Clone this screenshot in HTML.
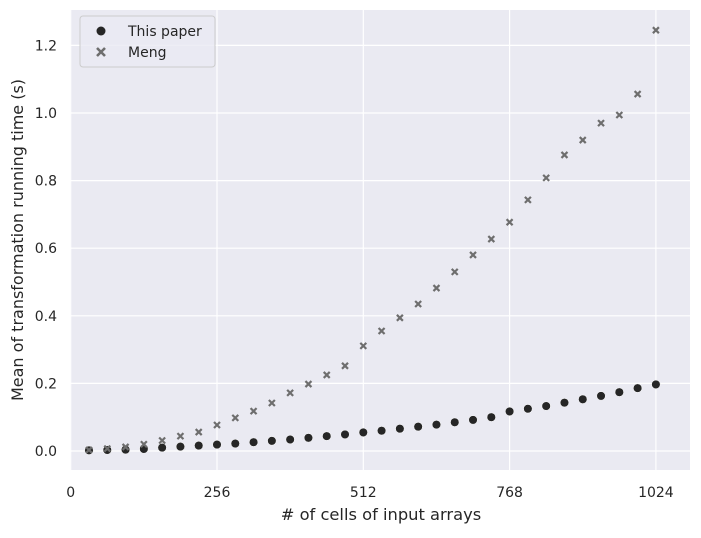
<!DOCTYPE html>
<html><head><meta charset="utf-8"><style>
body{margin:0;background:#fff;font-family:"Liberation Sans","DejaVu Sans",sans-serif}
svg text{font-family:"DejaVu Sans","Liberation Sans",sans-serif;fill:#262626}
</style></head><body>
<svg id="chart" width="701" height="533" viewBox="0 0 701 533">
<rect x="70" y="10" width="620" height="460" fill="#eaeaf2"/>
<g id="grid"></g><g id="marks"></g><g id="ticks"></g>
<text x="381" y="520" text-anchor="middle" font-size="16.3"># of cells of input arrays</text>
<text transform="translate(23,240) rotate(-90)" text-anchor="middle" font-size="16">Mean of transformation running time (s)</text>
<g>
<rect x="80" y="16" width="135" height="51" rx="3" fill="#eaeaf2" stroke="#cccccc" fill-opacity="0.8"/>
<circle cx="101" cy="31" r="4.5" fill="#262626"/>
<text x="128" y="36" font-size="14">This paper</text>
<path d="M97,48 l8,8 M105,48 l-8,8" stroke="#6e6e6e" stroke-width="2.6"/>
<text x="128" y="57" font-size="14">Meng</text>
</g>
</svg>
<script>
const cells=[32,64,96,128,160,192,224,256,288,320,352,384,416,448,480,512,544,576,608,640,672,704,736,768,800,832,864,896,928,960,992,1024];
const thisPaper=[0.002,0.003,0.004,0.006,0.010,0.013,0.016,0.019,0.022,0.026,0.030,0.034,0.039,0.044,0.049,0.055,0.060,0.066,0.072,0.078,0.085,0.092,0.100,0.117,0.125,0.133,0.143,0.153,0.163,0.174,0.186,0.197];
const meng=[0.003,0.007,0.012,0.020,0.031,0.044,0.056,0.077,0.098,0.118,0.142,0.172,0.198,0.225,0.252,0.311,0.355,0.394,0.435,0.482,0.530,0.580,0.627,0.677,0.743,0.808,0.876,0.920,0.970,0.994,1.056,1.245];
const xTicks=[0,256,512,768,1024];
const yTicks=[0.0,0.2,0.4,0.6,0.8,1.0,1.2];
const NS="http://www.w3.org/2000/svg";
const xs=v=>70.7+v*(585.2/1024);
const ys=v=>451-v*(67.6/0.2);
function mk(t,a,p){const e=document.createElementNS(NS,t);for(const k in a)e.setAttribute(k,a[k]);p.appendChild(e);return e;}
const grid=document.getElementById('grid'),marks=document.getElementById('marks'),ticks=document.getElementById('ticks');
xTicks.forEach(v=>{
 const l=mk('line',{x1:xs(v),x2:xs(v),y1:10,y2:470,stroke:'#fff','stroke-width':1.2},grid);
 
 
 const t=mk('text',{x:xs(v),y:497,'text-anchor':'middle','font-size':14},ticks);t.textContent=v;
 
 
});
yTicks.forEach(v=>{
 const l=mk('line',{x1:70,x2:690,y1:ys(v),y2:ys(v),stroke:'#fff','stroke-width':1.2},grid);
 
 
 const t=mk('text',{x:57,y:ys(v)+5,'text-anchor':'end','font-size':14},ticks);t.textContent=v.toFixed(1);
 
 
});
cells.forEach((c,i)=>{
 const d=mk('circle',{cx:xs(c),cy:ys(thisPaper[i]),r:4.3,fill:'#262626',stroke:'#fff','stroke-width':0.5},marks);
 
 
});
cells.forEach((c,i)=>{
 const x=xs(c),y=ys(meng[i]);
 const p=mk('path',{d:`M${x-3},${y-3} L${x+3},${y+3} M${x+3},${y-3} L${x-3},${y+3}`,stroke:'#6e6e6e','stroke-width':2.2},marks);
 
 
});
</script>
</body></html>
